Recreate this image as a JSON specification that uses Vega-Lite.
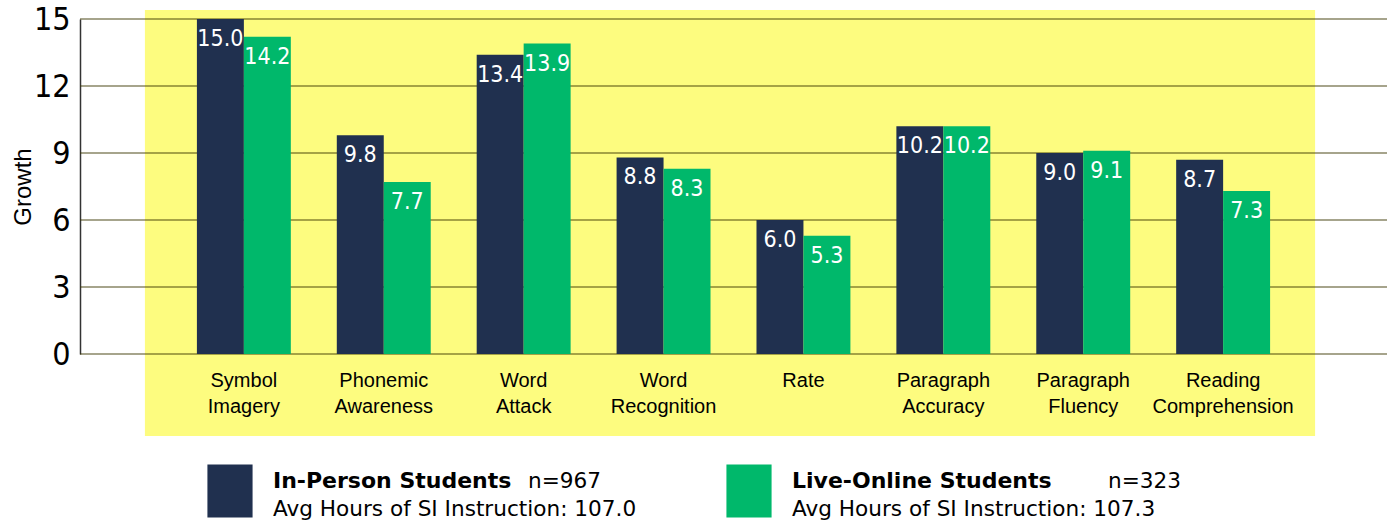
{
  "$schema": "https://vega.github.io/schema/vega-lite/v6.json",
  "background": "white",
  "padding": {"left": 11, "top": 3, "right": 0, "bottom": 0},
  "config": {"view": {"stroke": null}, "concat": {"spacing": 25}},
  "datasets": {
    "bars": [
      {"category": "Symbol Imagery", "series": "In-Person Students", "growth": 15.0},
      {"category": "Symbol Imagery", "series": "Live-Online Students", "growth": 14.2},
      {"category": "Phonemic Awareness", "series": "In-Person Students", "growth": 9.8},
      {"category": "Phonemic Awareness", "series": "Live-Online Students", "growth": 7.7},
      {"category": "Word Attack", "series": "In-Person Students", "growth": 13.4},
      {"category": "Word Attack", "series": "Live-Online Students", "growth": 13.9},
      {"category": "Word Recognition", "series": "In-Person Students", "growth": 8.8},
      {"category": "Word Recognition", "series": "Live-Online Students", "growth": 8.3},
      {"category": "Rate", "series": "In-Person Students", "growth": 6.0},
      {"category": "Rate", "series": "Live-Online Students", "growth": 5.3},
      {"category": "Paragraph Accuracy", "series": "In-Person Students", "growth": 10.2},
      {"category": "Paragraph Accuracy", "series": "Live-Online Students", "growth": 10.2},
      {"category": "Paragraph Fluency", "series": "In-Person Students", "growth": 9.0},
      {"category": "Paragraph Fluency", "series": "Live-Online Students", "growth": 9.1},
      {"category": "Reading Comprehension", "series": "In-Person Students", "growth": 8.7},
      {"category": "Reading Comprehension", "series": "Live-Online Students", "growth": 7.3}
    ],
    "grid": [{"v": 0}, {"v": 3}, {"v": 6}, {"v": 9}, {"v": 12}, {"v": 15}],
    "bg": [{"start": "Symbol Imagery", "end": "Reading Comprehension", "lo": 0, "hi": 15}],
    "legend": [
      {"series": "In-Person Students", "n": "n=967", "hours": "Avg Hours of SI Instruction: 107.0"},
      {"series": "Live-Online Students", "n": "n=323", "hours": "Avg Hours of SI Instruction: 107.3"}
    ]
  },
  "vconcat": [
    {
      "width": 1307,
      "height": 335,
      "layer": [
        {
          "data": {"name": "bg"},
          "mark": {"type": "rect", "color": "#fdfc7f", "xOffset": -52, "x2Offset": 45, "yOffset": 82, "y2Offset": -9},
          "encoding": {
            "x": {
              "field": "start", "type": "nominal", "bandPosition": 0,
              "scale": {"domain": ["Symbol Imagery", "Phonemic Awareness", "Word Attack", "Word Recognition", "Rate", "Paragraph Accuracy", "Paragraph Fluency", "Reading Comprehension"], "paddingInner": 0.3286, "paddingOuter": 0.8357},
              "axis": {"title": null, "domain": false, "ticks": false, "grid": false, "labelAngle": 0, "labelExpr": "split(datum.label, ' ')", "labelFont": "Liberation Sans", "labelFontSize": 20, "labelLineHeight": 26, "labelPadding": 16, "labelColor": "#000000"}
            },
            "x2": {"field": "end", "bandPosition": 1},
            "y": {
              "field": "lo", "type": "quantitative",
              "scale": {"domain": [0, 15], "nice": false},
              "axis": {"title": "Growth", "values": [0, 3, 6, 9, 12, 15], "grid": false, "ticks": false, "domain": true, "domainColor": "#333333", "domainWidth": 1.5, "labelFont": "DejaVu Sans Condensed", "labelFontSize": 32, "labelPadding": 10, "labelColor": "#000000", "titleFont": "Liberation Sans", "titleFontSize": 24, "titleFontWeight": "normal", "titleColor": "#000000", "titleX": -45}
            },
            "y2": {"field": "hi"}
          }
        },
        {
          "data": {"name": "grid"},
          "mark": {"type": "rule", "color": "#3a3500", "opacity": 0.45, "strokeWidth": 2},
          "encoding": {
            "y": {"field": "v", "type": "quantitative"}
          }
        },
        {
          "data": {"name": "bars"},
          "mark": {"type": "bar"},
          "encoding": {
            "x": {"field": "category", "type": "nominal"},
            "xOffset": {"field": "series", "type": "nominal", "scale": {"paddingInner": 0, "paddingOuter": 0}},
            "y": {"field": "growth", "type": "quantitative"},
            "color": {"field": "series", "type": "nominal", "scale": {"domain": ["In-Person Students", "Live-Online Students"], "range": ["#20304f", "#00b86b"]}, "legend": null}
          }
        },
        {
          "data": {"name": "bars"},
          "mark": {"type": "text", "color": "white", "baseline": "top", "dy": 9, "font": "DejaVu Sans Condensed", "fontSize": 23},
          "encoding": {
            "x": {"field": "category", "type": "nominal"},
            "xOffset": {"field": "series", "type": "nominal"},
            "y": {"field": "growth", "type": "quantitative"},
            "text": {"field": "growth", "type": "quantitative", "format": ".1f"}
          }
        }
      ]
    },
    {
      "data": {"name": "legend"},
      "width": 819,
      "height": 60,
      "encoding": {
        "x": {"field": "series", "type": "nominal", "scale": {"type": "point", "padding": 0.289}, "axis": null}
      },
      "layer": [
        {
          "mark": {"type": "point", "filled": true, "opacity": 1, "shape": "M-0.852,-1H0.852V1H-0.852Z", "size": 2809},
          "encoding": {
            "color": {"field": "series", "type": "nominal", "scale": {"domain": ["In-Person Students", "Live-Online Students"], "range": ["#20304f", "#00b86b"]}, "legend": null}
          }
        },
        {
          "mark": {"type": "text", "align": "left", "baseline": "alphabetic", "dx": 43, "dy": -3, "font": "DejaVu Sans", "fontWeight": "bold", "fontSize": 22, "color": "#000000"},
          "encoding": {"text": {"field": "series"}}
        },
        {
          "mark": {"type": "text", "align": "left", "baseline": "alphabetic", "dx": 43, "dy": 25, "font": "DejaVu Sans", "fontSize": 21.6, "color": "#000000"},
          "encoding": {"text": {"field": "hours"}}
        },
        {
          "transform": [{"filter": "datum.series == 'In-Person Students'"}],
          "mark": {"type": "text", "align": "left", "baseline": "alphabetic", "dx": 298, "dy": -3, "font": "DejaVu Sans", "fontSize": 21.6, "color": "#000000"},
          "encoding": {"text": {"field": "n"}}
        },
        {
          "transform": [{"filter": "datum.series == 'Live-Online Students'"}],
          "mark": {"type": "text", "align": "left", "baseline": "alphabetic", "dx": 359, "dy": -3, "font": "DejaVu Sans", "fontSize": 21.6, "color": "#000000"},
          "encoding": {"text": {"field": "n"}}
        }
      ]
    }
  ]
}
